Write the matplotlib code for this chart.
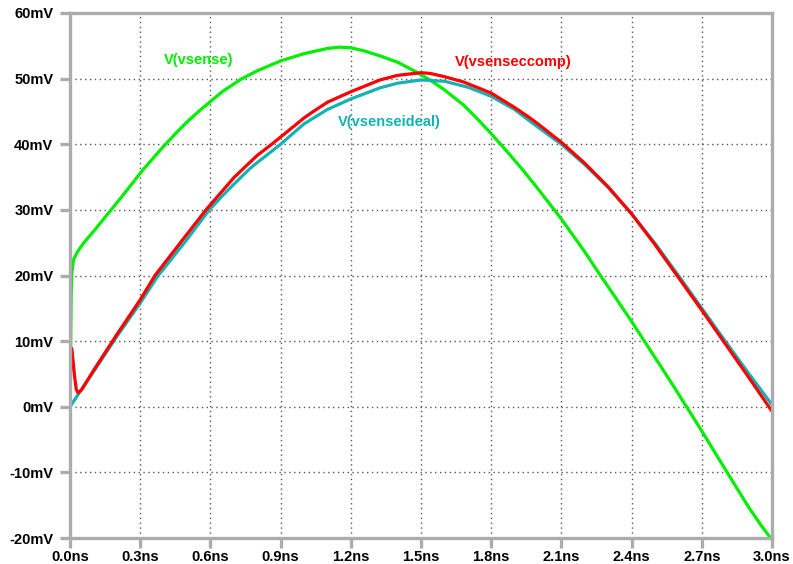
import matplotlib
matplotlib.use('Agg')
import matplotlib.pyplot as plt

# trace data (time in ns, voltage in mV)
t_sense = [0.0, 0.003, 0.005, 0.008, 0.015, 0.03, 0.057, 0.114, 0.171, 0.214,
           0.27, 0.3, 0.385, 0.45, 0.5, 0.556, 0.6, 0.65, 0.73, 0.8, 0.9, 1.0,
           1.1, 1.15, 1.2, 1.26, 1.33, 1.4, 1.47, 1.538, 1.6, 1.681, 1.74, 1.8,
           1.87, 1.937, 2.0, 2.1, 2.2, 2.265, 2.33, 2.4, 2.46, 2.52, 2.58, 2.64,
           2.7, 2.76, 2.81, 2.86, 2.9, 2.95, 3.0]
v_sense = [0.0, 10.0, 17.0, 20.5, 22.4, 23.5, 24.9, 27.3, 29.8, 31.7,
           34.2, 35.6, 39.1, 41.6, 43.4, 45.2, 46.5, 48.0, 49.9, 51.2, 52.7, 53.8,
           54.6, 54.8, 54.7, 54.2, 53.4, 52.5, 51.2, 49.8, 48.3, 46.0, 43.9, 41.6,
           38.8, 36.0, 33.2, 28.6, 23.6, 20.1, 16.7, 13.0, 9.7, 6.4, 3.1, -0.3,
           -3.7, -7.2, -10.1, -13.0, -15.3, -17.9, -20.3]

t_comp = [0.0, 0.002, 0.004, 0.008, 0.013, 0.02, 0.027, 0.035, 0.05, 0.1,
          0.2, 0.3, 0.363, 0.5, 0.581, 0.7, 0.741, 0.8, 0.862, 0.9, 1.0, 1.04,
          1.1, 1.2, 1.325, 1.4, 1.5, 1.538, 1.6, 1.681, 1.8, 1.9, 1.966, 2.0,
          2.1, 2.2, 2.3, 2.4, 2.5, 2.6, 2.7, 2.8, 2.9, 3.0]
v_comp = [0.0, 5.0, 9.0, 8.8, 7.0, 4.5, 2.6, 2.1, 2.6, 5.5,
          11.0, 16.3, 20.0, 26.3, 30.0, 34.9, 36.3, 38.3, 40.0, 41.1, 44.0, 45.0,
          46.4, 48.0, 49.8, 50.5, 50.9, 50.8, 50.3, 49.5, 47.8, 45.6, 44.0, 43.1,
          40.3, 37.1, 33.5, 29.4, 24.7, 19.7, 14.7, 9.6, 4.5, -0.7]

t_ideal = [0.0, 0.05, 0.1, 0.2, 0.3, 0.377, 0.4, 0.5, 0.595, 0.65, 0.7, 0.769,
           0.8, 0.9, 1.0, 1.1, 1.2, 1.325, 1.4, 1.5, 1.6, 1.7, 1.8, 1.9, 1.966,
           2.0, 2.1, 2.2, 2.3, 2.4, 2.5, 2.6, 2.7, 2.8, 2.9, 3.0]
v_ideal = [0.0, 2.7, 5.3, 10.7, 15.8, 20.0, 21.0, 25.5, 30.0, 32.1, 33.9, 36.3,
           37.2, 40.0, 43.1, 45.3, 46.9, 48.6, 49.3, 49.8, 49.6, 48.7, 47.3, 45.3, 43.5,
           42.6, 40.0, 36.9, 33.4, 29.4, 24.9, 20.0, 15.0, 10.0, 5.1, 0.3]

x_ticks = [0.0, 0.3, 0.6, 0.9, 1.2, 1.5, 1.8, 2.1, 2.4, 2.7, 3.0]
y_ticks = [-20, -10, 0, 10, 20, 30, 40, 50, 60]

green = '#00ee00'
red = '#ff0000'
teal = '#14b2b4'
frame = '#acacac'

plt.rcParams['font.family'] = ['Liberation Sans', 'DejaVu Sans']
plt.rcParams['font.weight'] = 'bold'

fig = plt.figure(figsize=(7.93, 5.64), dpi=100)
ax = fig.add_axes([70/793, 26/564, 702/793, 525/564])

ax.plot(t_sense, v_sense, color=green, lw=2.3, solid_joinstyle='round')
ax.plot(t_ideal, v_ideal, color=teal, lw=2.3, solid_joinstyle='round')
ax.plot(t_comp, v_comp, color=red, lw=2.3, solid_joinstyle='round')

ax.set_xlim(0, 3.0)
ax.set_ylim(-20, 60)
ax.set_xticks(x_ticks)
ax.set_yticks(y_ticks)
ax.set_xticklabels([f'{x:.1f}ns' for x in x_ticks])
ax.set_yticklabels([f'{y}mV' for y in y_ticks])

ax.grid(True, linestyle=(0, (1, 2.5)), color='#555555', lw=1)
ax.set_axisbelow(True)

for s in ax.spines.values():
    s.set_color(frame)
    s.set_linewidth(2.4)
ax.tick_params(axis='both', color=frame, width=2.4, length=7,
               labelsize=10.5, labelcolor='black')
ax.tick_params(axis='y', pad=5)
ax.tick_params(axis='x', pad=1.5)

ax.text(0.551, 52.8, 'V(vsense)', color=green, fontsize=10.5,
        fontweight='bold', ha='center', va='center')
ax.text(1.893, 52.5, 'V(vsenseccomp)', color=red, fontsize=10.5,
        fontweight='bold', ha='center', va='center')
ax.text(1.363, 43.4, 'V(vsenseideal)', color=teal, fontsize=10.5,
        fontweight='bold', ha='center', va='center')

fig.savefig('out.png', dpi=100)
